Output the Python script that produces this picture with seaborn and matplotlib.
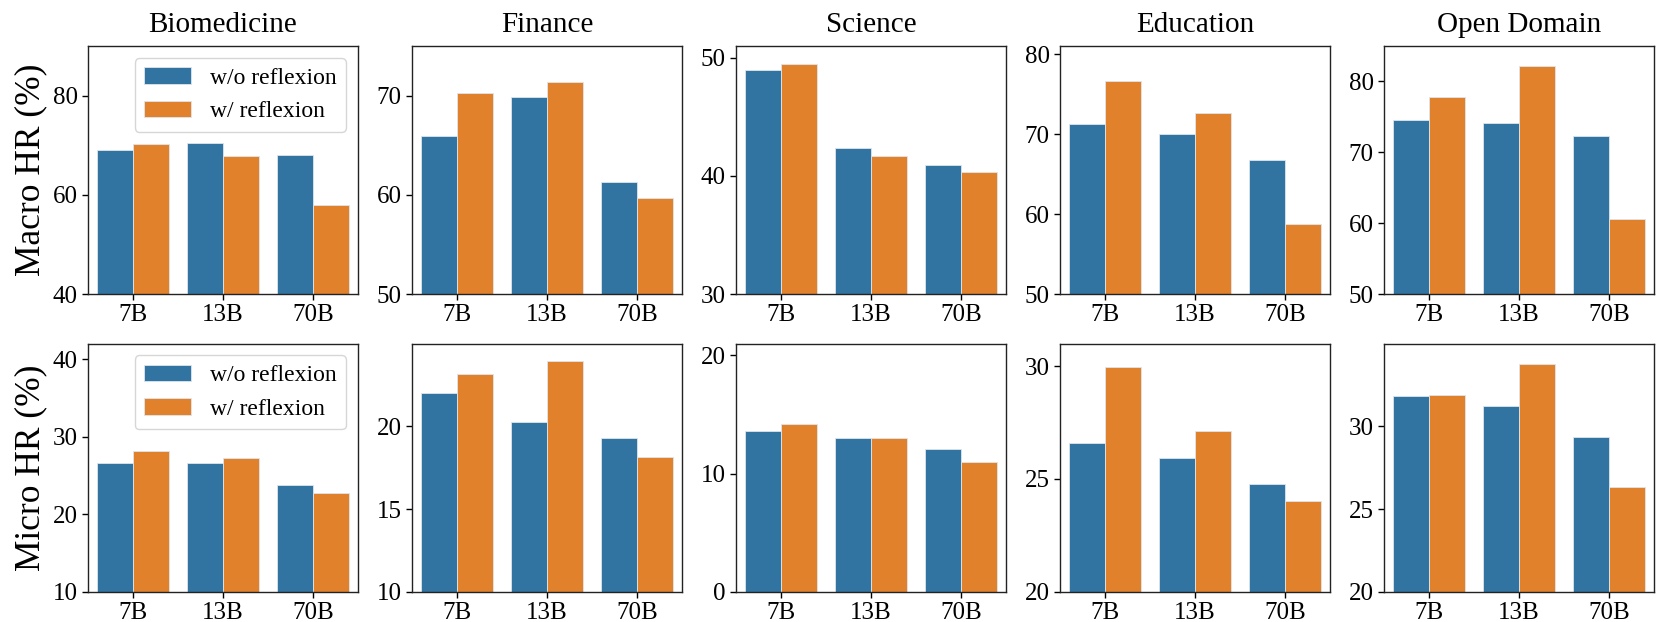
import seaborn as sns
import matplotlib.pyplot as plt
import pandas as pd

sns.set_theme(style="ticks", palette="tab10")
plt.rcParams['font.family'] = ['Liberation Serif', 'DejaVu Serif']
plt.rcParams['text.color'] = 'black'
plt.rcParams['axes.labelcolor'] = 'black'
plt.rcParams['xtick.color'] = 'black'
plt.rcParams['ytick.color'] = 'black'

domains = ["Biomedicine", "Finance", "Science", "Education", "Open Domain"]
sizes = ["7B", "13B", "70B"]
methods = ["w/o reflexion", "w/ reflexion"]

# Macro HR (%), one list per domain: [7B, 13B, 70B]
macro_wo = [[69.1, 70.5, 68.1], [65.9, 69.9, 61.3], [48.96, 42.37, 40.96],
            [71.2, 69.96, 66.7], [74.6, 74.1, 72.3]]
macro_w = [[70.3, 67.8, 57.9], [70.3, 71.4, 59.7], [49.46, 41.66, 40.36],
           [76.6, 72.6, 58.8], [77.8, 82.2, 60.6]]
# Micro HR (%)
micro_wo = [[26.56, 26.6, 23.74], [22.04, 20.28, 19.27], [13.61, 13.05, 12.07],
            [26.61, 25.95, 24.76], [31.83, 31.23, 29.35]]
micro_w = [[28.15, 27.25, 22.75], [23.17, 23.95, 18.15], [14.16, 13.03, 10.96],
           [29.97, 27.13, 24.01], [31.88, 33.77, 26.33]]

macro_ylim = [(40, 90), (50, 75), (30, 51), (50, 81), (50, 85)]
macro_ticks = [[40, 60, 80], [50, 60, 70], [30, 40, 50], [50, 60, 70, 80], [50, 60, 70, 80]]
micro_ylim = [(10, 42), (10, 25), (0, 21), (20, 31), (20, 35)]
micro_ticks = [[10, 20, 30, 40], [10, 15, 20], [0, 10, 20], [20, 25, 30], [20, 25, 30]]

rows = []
for i, d in enumerate(domains):
    for j, s in enumerate(sizes):
        rows.append([d, s, methods[0], macro_wo[i][j], micro_wo[i][j]])
        rows.append([d, s, methods[1], macro_w[i][j], micro_w[i][j]])
df = pd.DataFrame(rows, columns=["domain", "size", "method", "macro", "micro"])

fig, axes = plt.subplots(2, 5, figsize=(16.6, 6.22), dpi=100)
fig.subplots_adjust(left=0.053, right=0.9964, top=0.926, bottom=0.0487,
                    wspace=0.2, hspace=0.2)

for r, (metric, ylims, ticks, label) in enumerate([
        ("macro", macro_ylim, macro_ticks, "Macro HR (%)"),
        ("micro", micro_ylim, micro_ticks, "Micro HR (%)")]):
    for c, d in enumerate(domains):
        ax = axes[r, c]
        sub = df[df.domain == d]
        sns.barplot(data=sub, x="size", y=metric, hue="method", order=sizes,
                    hue_order=methods, ax=ax, legend=(c == 0),
                    edgecolor="#dde6ee", linewidth=0.6)
        ax.set_ylim(*ylims[c])
        ax.set_yticks(ticks[c])
        ax.set_xlabel("")
        ax.set_ylabel(label if c == 0 else "", fontsize=25.5)
        ax.tick_params(labelsize=18, length=4, width=1)
        for sp in ax.spines.values():
            sp.set_color("#222222")
            sp.set_linewidth(1.0)
        if r == 0:
            ax.set_title(d, fontsize=21, pad=10)
        if c == 0:
            sns.move_legend(ax, "upper right", title=None, fontsize=17,
                            frameon=True)

plt.savefig("out.png", dpi=100)
